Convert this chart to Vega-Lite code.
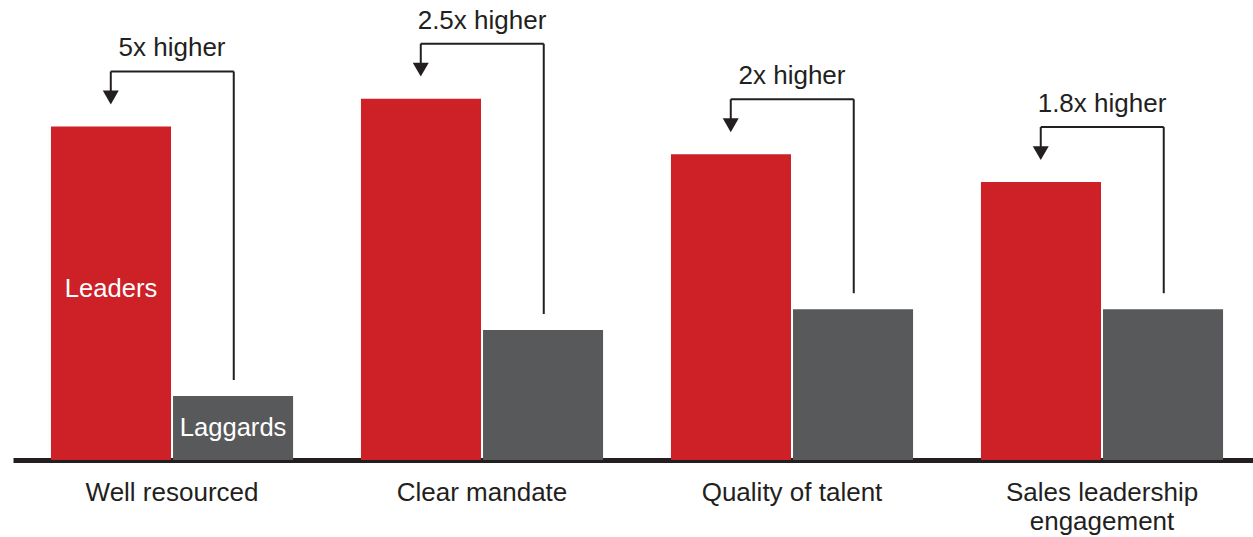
{
  "$schema": "https://vega.github.io/schema/vega-lite/v6.json",
  "width": 1244,
  "height": 460,
  "autosize": {"type": "none"},
  "padding": {"left": 13, "top": 0, "right": 0, "bottom": 77},
  "background": "white",
  "config": {
    "view": {"stroke": null},
    "font": "Liberation Sans",
    "text": {"font": "Liberation Sans"}
  },
  "datasets": {
    "bars": [
      {"cat": "Well resourced", "group": "Leaders", "value": 48},
      {"cat": "Well resourced", "group": "Laggards", "value": 9.2},
      {"cat": "Clear mandate", "group": "Leaders", "value": 52},
      {"cat": "Clear mandate", "group": "Laggards", "value": 18.7},
      {"cat": "Quality of talent", "group": "Leaders", "value": 44},
      {"cat": "Quality of talent", "group": "Laggards", "value": 21.7},
      {"cat": "Sales leadership engagement", "group": "Leaders", "value": 40},
      {"cat": "Sales leadership engagement", "group": "Laggards", "value": 21.7}
    ],
    "brackets": [
      {"cat": "Well resourced", "leaders": 48, "laggards": 9.2, "note": "5x higher"},
      {"cat": "Clear mandate", "leaders": 52, "laggards": 18.7, "note": "2.5x higher"},
      {"cat": "Quality of talent", "leaders": 44, "laggards": 21.7, "note": "2x higher"},
      {"cat": "Sales leadership engagement", "leaders": 40, "laggards": 21.7, "note": "1.8x higher"}
    ]
  },
  "encoding": {
    "x": {
      "field": "cat",
      "type": "nominal",
      "sort": ["Well resourced", "Clear mandate", "Quality of talent", "Sales leadership engagement"],
      "scale": {"paddingInner": 0.219, "paddingOuter": 0.116, "align": 0.528},
      "axis": {
        "title": null,
        "labelAngle": 0,
        "ticks": false,
        "domain": true,
        "domainColor": "#231f20",
        "domainWidth": 5,
        "labelFontSize": 26,
        "labelFont": "Liberation Sans",
        "labelColor": "#231f20",
        "labelPadding": 40,
        "labelBaseline": "alphabetic",
        "labelLineHeight": 29,
        "labelLimit": 0,
        "labelOverlap": false,
        "labelExpr": "datum.label == 'Sales leadership engagement' ? ['Sales leadership', 'engagement'] : datum.label"
      }
    }
  },
  "layer": [
    {
      "data": {"name": "bars"},
      "mark": {"type": "bar"},
      "encoding": {
        "xOffset": {"field": "group", "type": "nominal", "sort": ["Leaders", "Laggards"], "scale": {"paddingInner": 0.0165, "paddingOuter": 0}},
        "y": {"field": "value", "type": "quantitative", "scale": {"domain": [0, 66.2], "nice": false}, "axis": null},
        "color": {"field": "group", "type": "nominal", "scale": {"domain": ["Leaders", "Laggards"], "range": ["#cd2027", "#58595b"]}, "legend": null}
      }
    },
    {
      "data": {"name": "bars"},
      "transform": [{"filter": "datum.cat == 'Well resourced' && datum.group == 'Leaders'"}],
      "mark": {"type": "text", "color": "white", "fontSize": 25.6, "baseline": "alphabetic", "align": "center", "yOffset": 171},
      "encoding": {
        "xOffset": {"field": "group", "type": "nominal", "sort": ["Leaders", "Laggards"]},
        "y": {"field": "value", "type": "quantitative"},
        "text": {"field": "group"}
      }
    },
    {
      "data": {"name": "bars"},
      "transform": [{"filter": "datum.cat == 'Well resourced' && datum.group == 'Laggards'"}],
      "mark": {"type": "text", "color": "white", "fontSize": 25.6, "baseline": "alphabetic", "align": "center", "yOffset": 40},
      "encoding": {
        "xOffset": {"field": "group", "type": "nominal", "sort": ["Leaders", "Laggards"]},
        "y": {"field": "value", "type": "quantitative"},
        "text": {"field": "group"}
      }
    },
    {
      "data": {"name": "brackets"},
      "mark": {"type": "rule", "color": "#231f20", "strokeWidth": 2, "yOffset": -16, "y2Offset": -55},
      "encoding": {
        "x": {"field": "cat", "type": "nominal", "bandPosition": 0.755},
        "y": {"field": "laggards", "type": "quantitative"},
        "y2": {"field": "leaders"}
      }
    },
    {
      "data": {"name": "brackets"},
      "mark": {"type": "rule", "color": "#231f20", "strokeWidth": 2, "yOffset": -55},
      "encoding": {
        "x": {"field": "cat", "type": "nominal", "bandPosition": 0.247},
        "x2": {"field": "cat", "bandPosition": 0.755},
        "y": {"field": "leaders", "type": "quantitative"}
      }
    },
    {
      "data": {"name": "brackets"},
      "mark": {"type": "rule", "color": "#231f20", "strokeWidth": 2, "yOffset": -55, "y2Offset": -30},
      "encoding": {
        "x": {"field": "cat", "type": "nominal", "bandPosition": 0.247},
        "y": {"field": "leaders", "type": "quantitative"},
        "y2": {"field": "leaders"}
      }
    },
    {
      "data": {"name": "brackets"},
      "mark": {"type": "point", "shape": "triangle-down", "filled": true, "size": 256, "color": "#231f20", "opacity": 1, "strokeWidth": 0, "yOffset": -29},
      "encoding": {
        "x": {"field": "cat", "type": "nominal", "bandPosition": 0.247},
        "y": {"field": "leaders", "type": "quantitative"}
      }
    },
    {
      "data": {"name": "brackets"},
      "mark": {"type": "text", "color": "#231f20", "fontSize": 26, "baseline": "alphabetic", "align": "center", "yOffset": -70},
      "encoding": {
        "x": {"field": "cat", "type": "nominal", "bandPosition": 0.5},
        "y": {"field": "leaders", "type": "quantitative"},
        "text": {"field": "note"}
      }
    }
  ]
}
